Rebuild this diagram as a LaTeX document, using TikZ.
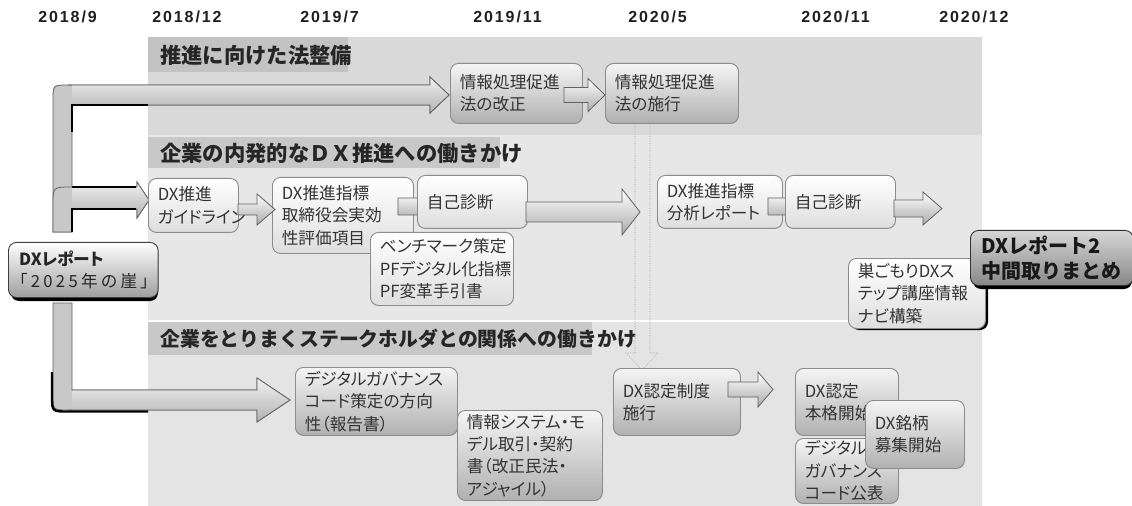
\documentclass[tikz,border=0pt]{standalone}
\usepackage{fontspec}
\usetikzlibrary{calc}
\setmainfont{Noto Sans CJK JP}
\newfontfamily\jpb{Noto Sans CJK JP}[RawFeature=+palt]
\newfontfamily\jph{Noto Sans CJK JP}
\newfontfamily\datef{Liberation Sans}[LetterSpace=12]
\definecolor{secA}{HTML}{D9D9D9}
\definecolor{secB}{HTML}{E7E7E7}
\definecolor{secC}{HTML}{E4E4E4}
\definecolor{hdrA}{HTML}{C3C3C3}
\definecolor{hdrB}{HTML}{C8C8C8}
\definecolor{txt}{HTML}{333333}
\definecolor{edge}{HTML}{8C8C8C}
\definecolor{boxlo}{HTML}{B0B0B0}
\definecolor{barc}{HTML}{C8C8C8}
\definecolor{faintc}{HTML}{C4C4C4}
\tikzset{
 gbox/.style={rounded corners=6pt, draw=edge, line width=0.7pt, top color=white!96!black, bottom color=boxlo, text=txt, align=left, inner xsep=7pt, inner ysep=0pt, font=\jpb\fontsize{12.5}{16.8}\selectfont},
 wbox/.style={gbox, top color=white, bottom color=white!87!black},
 repbox/.style={gbox, top color=white, bottom color=black!38, draw=black!75, inner xsep=8pt, text=black!85},
 rep2box/.style={gbox, top color=black!16, bottom color=black!47, draw=black!80, text=black!90, inner xsep=8pt, font=\jph\bfseries\fontsize{15}{19}\selectfont},
 barrow/.style={draw=black!62, line width=0.6pt, top color=white, bottom color=black!33},
 aline/.style={draw=black!62, line width=0.6pt},
 hshade/.style={top color=white!94!black, bottom color=black!30},
 hdr/.style={anchor=west, inner sep=0pt, text=black!85, font=\jph\bfseries\fontsize{16}{18}\selectfont},
 datelbl/.style={anchor=west, inner sep=0pt, text=black!88, font=\datef\bfseries\fontsize{12}{14}\selectfont},
 faint/.style={draw=faintc, densely dotted, line width=0.8pt},
 blk/.style={draw=black, line width=1.8pt},
 shad/.style={fill=black, rounded corners=6pt},
}
% box: name, style, x1, y1, x2, y2 (px), text
\newcommand\bx[7]{%
 \pgfmathsetmacro\bxw{(#5-#3)*0.75}%
 \pgfmathsetmacro\bxh{(#6-#4)*0.75}%
 \pgfmathsetmacro\bxt{(#5-#3)*0.75-14}%
 \node[#2, anchor=north west, minimum width=\bxw pt, minimum height=\bxh pt, text width=\bxt pt] (#1) at (#3,#4) {#7};}
% block arrow: from, start offset, to, tip offset, y centre, shaft half, head half, head length (px)
\newcommand\barr[8]{%
 \path[barrow] let \p1=(#1), \p2=(#3) in
  ({\x1+(#2)*0.75pt},{-(#5-#6)*0.75pt}) --
  ({\x2+(#4-#8)*0.75pt},{-(#5-#6)*0.75pt}) --
  ({\x2+(#4-#8)*0.75pt},{-(#5-#7)*0.75pt}) --
  ({\x2+(#4)*0.75pt},{-(#5)*0.75pt}) --
  ({\x2+(#4-#8)*0.75pt},{-(#5+#7)*0.75pt}) --
  ({\x2+(#4-#8)*0.75pt},{-(#5+#6)*0.75pt}) --
  ({\x1+(#2)*0.75pt},{-(#5+#6)*0.75pt}) -- cycle;}
\begin{document}
\begin{tikzpicture}[x=0.75pt,y=-0.75pt]
\useasboundingbox (0,0) rectangle (1132,506);
% dates
\node[datelbl] (d1) at (38,17) {2018/9};
\node[datelbl] (d2) at (152,17) {2018/12};
\node[datelbl] (d3) at (300,17) {2019/7};
\node[datelbl] (d4) at (473,17) {2019/11};
\node[datelbl] (d5) at (628,17) {2020/5};
\node[datelbl] (d6) at (801,17) {2020/11};
\node[datelbl] (d7) at (939,17) {2020/12};
% panel
\fill[secA] (148,37) rectangle (982,135);
\fill[hdrA] (148,37) rectangle (348,72);
\fill[secB] (148,135) rectangle (982,320);
\fill[hdrB] (148,137) rectangle (500,168);
\fill[secC] (148,322) rectangle (982,506);
\fill[hdrB] (148,322) rectangle (592,355);
\draw[white, line width=1.5pt] (148,321) -- (982,321);
\node[hdr] (h1) at (160,55) {推進に向けた法整備};
\node[hdr] (h2) at (160,153) {企業の内発的なＤＸ推進への働きかけ};
\node[hdr, font=\jph\bfseries\fontsize{14.9}{18}\selectfont] (h3) at (160,339) {企業をとりまくステークホルダとの関係への働きかけ};
% faint dotted arrow
\coordinate (fa1) at (642,124);
\coordinate (fa2) at (642,370);
\draw[faint] (635,124) -- (635,353) -- (626,353) -- (fa2) -- (658,353) -- (650,353) -- (650,124);
% left bent arrows
\path[fill=barc, aline] (53,232) -- (53,100) .. controls (53,85) .. (68,85) -- (430,85) -- (430,77) -- (449,95) -- (430,113) -- (430,105) -- (72,105) -- (72,232) -- cycle;
\shade[hshade] (72,85) -- (430,85) -- (430,77) -- (449,95) -- (430,113) -- (430,105) -- (72,105) -- cycle;
\draw[aline] (68,85) -- (430,85) -- (430,77) -- (449,95) -- (430,113) -- (430,105) -- (72,105);
\draw[blk] (72,132) -- (72,105) -- (148,105);
\path[fill=barc, aline] (53,232) -- (53,205) .. controls (53,187) .. (71,187) -- (137,187) -- (137,182) -- (149,200) -- (137,218) -- (137,209) -- (72,209) -- (72,232) -- cycle;
\shade[hshade] (72,187) -- (137,187) -- (137,182) -- (149,200) -- (137,218) -- (137,209) -- (72,209) -- cycle;
\draw[aline] (72,187) -- (137,187) -- (137,182) -- (149,200) -- (137,218) -- (137,209) -- (72,209);
\draw[blk, line width=1.5pt] (72,187) -- (136,187);
\draw[blk, line width=1.5pt] (72,232) -- (72,209) -- (136,209);
\path[fill=barc, aline] (53,303) -- (53,395) .. controls (53,410) .. (68,410) -- (257,410) -- (257,422) -- (290,400) -- (257,378) -- (257,390) -- (72,390) -- (72,303) -- cycle;
\shade[hshade] (72,390) -- (257,390) -- (257,378) -- (290,400) -- (257,422) -- (257,410) -- (72,410) -- cycle;
\draw[aline] (68,410) -- (257,410) -- (257,422) -- (290,400) -- (257,378) -- (257,390) -- (72,390);
\draw[blk] (52,372) -- (52,396) .. controls (52,411.5) .. (68,411.5) -- (148,411.5);
% section 1
\bx{kaisei}{gbox}{450}{63}{582}{123}{情報処理促進\\法の改正}
\bx{shiko}{gbox}{605}{63}{738}{123}{情報処理促進\\法の施行}
\barr{kaisei.east}{-19}{shiko.west}{0}{95}{7.5}{16.5}{17}
% section 2
\bx{guide}{wbox}{148}{178}{238}{232}{DX推進\\ガイドライン}
\bx{idx}{wbox}{272}{177}{413}{253}{DX推進指標\\取締役会実効\\性評価項目}
\barr{guide.east}{-1}{idx.west}{3}{209.5}{5.5}{15.5}{18}
\coordinate (a3e) at (440,206.5);
\barr{idx.east}{-16}{a3e}{0}{206.5}{8.5}{14}{12}
\bx{self1}{wbox}{417}{175}{527}{228}{自己診断}
\coordinate (a4e) at (640,212);
\barr{self1.east}{-2}{a4e}{0}{212}{10}{23}{18}
\bx{bench}{wbox}{370}{232}{513}{305}{ベンチマーク策定\\PFデジタル化指標\\PF変革手引書}
\bx{ana}{wbox}{657}{175}{782}{228}{DX推進指標\\分析レポート}
\coordinate (a5e) at (805,206.5);
\barr{ana.east}{-15}{a5e}{0}{206.5}{8.5}{14}{12}
\bx{self2}{wbox}{785}{175}{895}{228}{自己診断}
\coordinate (a6e) at (942,208.5);
\barr{self2.east}{-2}{a6e}{0}{208.5}{8.5}{16.5}{19}
\fill[shad] (851,261) rectangle (988,330);
\bx{suggo}{wbox}{848}{258}{985}{328}{巣ごもりDXス\\テップ講座情報\\ナビ構築}
\fill[shad] (973,233) rectangle (1132,289);
\bx{rep2}{rep2box}{970}{230}{1130}{285}{DXレポート2\\中間取りまとめ}
% section 3
\bx{dgov}{gbox}{295}{367}{457}{435}{デジタルガバナンス\\コード策定の方向\\性（報告書）}
\bx{jouhou}{gbox}{457}{410}{602}{500}{情報システム・モ\\デル取引・契約\\書（改正民法・\\アジャイル）}
\bx{seido}{gbox}{613}{368}{740}{435}{DX認定制度\\施行}
\coordinate (a7e) at (773,389.5);
\barr{seido.east}{-13}{a7e}{0}{389.5}{7.5}{17.5}{15}
\bx{nintei}{gbox}{795}{368}{898}{435}{DX認定\\本格開始}
\bx{kohyo}{gbox}{795}{438}{898}{503}{デジタル\\ガバナンス\\コード公表}
\bx{meigara}{gbox}{865}{400}{964}{468}{DX銘柄\\募集開始}
% DX report box
\fill[shad] (11,246) rectangle (158,301);
\bx{rep}{repbox}{8}{242}{155}{297}{\textbf{DXレポート}\\{\addfontfeature{LetterSpace=20}「2025年の崖」}}
\end{tikzpicture}
\end{document}
